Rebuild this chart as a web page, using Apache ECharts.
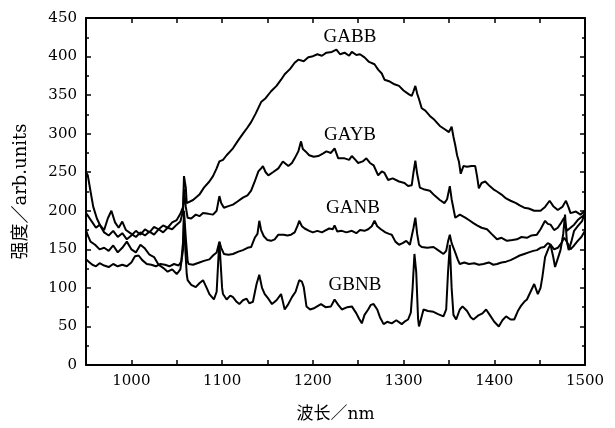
<!DOCTYPE html>
<html>
<head>
<meta charset="utf-8">
<script src="https://cdn.jsdelivr.net/npm/echarts@6/dist/echarts.min.js"></script>
<style>
    html, body { margin: 0; padding: 0; background: #fff; }
    #chart { width: 615px; height: 428px; }
</style>
</head>
<body>
<div id="chart"></div>
<script>
// 光谱数据 [波长 nm, 强度]
const gabb = [[950,250],[952,246],[955,225],[958,205],[962,190],[966,180],[970,172],[975,168],[980,174],[985,166],[990,171],[995,163],[1000,168],[1005,174],[1010,169],[1015,176],[1020,172],[1025,179],[1030,176],[1035,181],[1040,178],[1045,185],[1050,188],[1054,196],[1057,205],[1058,245],[1060,230],[1061,210],[1063,208],[1068,214],[1075,221],[1080,230],[1086,238],[1090,245],[1094,255],[1097,264],[1101,266],[1105,272],[1112,281],[1117,290],[1123,300],[1128,308],[1132,315],[1137,326],[1143,341],[1148,346],[1154,355],[1160,362],[1165,370],[1169,377],[1175,384],[1180,392],[1184,396],[1190,394],[1195,399],[1199,400],[1205,403],[1210,401],[1215,405],[1221,406],[1226,409],[1230,403],[1235,405],[1240,401],[1243,406],[1248,402],[1252,403],[1257,399],[1262,393],[1268,390],[1272,383],[1276,378],[1279,370],[1284,368],[1290,364],[1295,362],[1300,356],[1306,351],[1309,349],[1311,355],[1313,362],[1315,352],[1317,345],[1320,333],[1324,330],[1329,323],[1334,318],[1340,310],[1345,306],[1350,302],[1353,309],[1355,296],[1357,285],[1359,272],[1361,264],[1363,248],[1364,246],[1366,258],[1370,257],[1375,258],[1379,258],[1381,245],[1383,229],[1386,236],[1390,238],[1395,232],[1400,227],[1403,225],[1408,221],[1413,216],[1418,213],[1424,210],[1428,207],[1433,204],[1438,203],[1444,200],[1451,200],[1456,205],[1461,213],[1465,206],[1470,201],[1475,205],[1479,213],[1482,204],[1484,197],[1490,199],[1495,195],[1498,198],[1500,201]]
const gayb = [[950,197],[953,192],[957,185],[961,178],[965,182],[970,175],[974,190],[978,200],[982,185],[986,178],[990,186],[994,175],[1000,170],[1005,166],[1010,172],[1015,168],[1020,173],[1025,169],[1030,176],[1035,172],[1040,178],[1045,176],[1050,182],[1054,186],[1057,200],[1058,228],[1060,205],[1062,191],[1066,190],[1071,195],[1075,193],[1079,197],[1085,196],[1090,195],[1094,200],[1097,219],[1099,210],[1102,204],[1107,206],[1112,208],[1117,212],[1123,217],[1128,220],[1132,226],[1136,238],[1140,251],[1143,255],[1145,258],[1148,250],[1151,246],[1156,250],[1162,255],[1167,264],[1173,258],[1177,262],[1180,268],[1184,277],[1187,290],[1189,280],[1192,277],[1196,272],[1201,270],[1206,271],[1211,274],[1215,277],[1220,275],[1224,281],[1228,268],[1235,268],[1240,266],[1243,271],[1247,266],[1250,262],[1255,264],[1259,268],[1263,262],[1267,259],[1272,246],[1276,251],[1279,249],[1283,240],[1288,242],[1295,238],[1301,236],[1305,232],[1309,233],[1311,250],[1313,265],[1315,248],[1318,230],[1322,228],[1329,226],[1334,220],[1340,214],[1345,210],[1348,215],[1351,232],[1353,215],[1357,191],[1362,195],[1368,191],[1372,188],[1377,184],[1381,181],[1386,178],[1392,176],[1397,170],[1403,163],[1408,165],[1414,161],[1420,162],[1425,163],[1430,166],[1436,165],[1441,168],[1447,169],[1451,176],[1456,187],[1459,183],[1462,182],[1466,175],[1470,178],[1474,185],[1477,191],[1480,174],[1484,178],[1488,182],[1492,188],[1495,191],[1500,195]]
const ganb = [[950,175],[952,168],[955,160],[960,156],[965,150],[970,152],[975,148],[980,155],[985,146],[990,152],[995,160],[1000,150],[1005,146],[1010,156],[1015,151],[1020,143],[1025,140],[1030,130],[1035,126],[1040,121],[1045,124],[1050,118],[1054,124],[1057,150],[1058,200],[1060,165],[1062,135],[1063,131],[1068,130],[1075,133],[1080,135],[1086,137],[1090,142],[1094,146],[1097,160],[1099,152],[1102,144],[1107,143],[1112,144],[1118,147],[1123,149],[1128,152],[1132,153],[1136,165],[1139,170],[1141,187],[1143,175],[1146,167],[1150,162],[1154,161],[1158,163],[1162,169],[1168,169],[1172,168],[1176,169],[1180,172],[1183,180],[1185,187],[1188,180],[1191,177],[1196,174],[1200,172],[1205,174],[1210,172],[1213,174],[1218,177],[1222,176],[1224,181],[1227,173],[1232,174],[1237,172],[1243,174],[1248,171],[1252,175],[1257,174],[1261,176],[1265,180],[1268,187],[1271,180],[1275,176],[1280,172],[1284,170],[1287,169],[1291,160],[1295,156],[1299,158],[1303,161],[1307,156],[1309,158],[1311,178],[1313,191],[1315,170],[1317,156],[1320,153],[1326,152],[1333,153],[1338,149],[1344,144],[1347,148],[1349,160],[1351,169],[1353,158],[1356,149],[1360,136],[1362,131],[1367,133],[1372,131],[1378,132],[1383,130],[1388,131],[1394,133],[1399,130],[1403,131],[1408,133],[1413,134],[1418,136],[1423,139],[1428,142],[1433,144],[1438,146],[1443,148],[1447,149],[1451,152],[1455,153],[1459,158],[1462,156],[1466,150],[1470,152],[1474,158],[1477,165],[1480,160],[1484,150],[1488,155],[1492,161],[1496,166],[1500,174]]
const gbnb = [[950,137],[953,134],[957,130],[961,128],[965,132],[970,129],[975,127],[980,131],[985,128],[990,130],[995,128],[1000,133],[1004,141],[1008,142],[1012,136],[1017,131],[1022,130],[1027,128],[1032,131],[1037,130],[1042,128],[1047,131],[1052,129],[1055,134],[1057,160],[1058,190],[1059,160],[1061,118],[1062,110],[1066,104],[1071,101],[1075,106],[1079,110],[1083,100],[1086,92],[1091,85],[1094,95],[1096,140],[1097,159],[1098,140],[1100,100],[1101,92],[1105,85],[1109,90],[1112,88],[1116,82],[1119,79],[1123,84],[1127,86],[1130,80],[1134,82],[1138,105],[1141,117],[1144,100],[1147,92],[1151,86],[1155,79],[1160,84],[1165,92],[1169,72],[1173,79],[1177,88],[1181,95],[1185,110],[1188,108],[1190,101],[1193,76],[1197,72],[1202,74],[1209,79],[1214,75],[1220,76],[1224,85],[1228,78],[1232,72],[1238,75],[1243,76],[1248,67],[1251,60],[1254,54],[1257,65],[1261,72],[1264,78],[1267,79],[1271,72],[1274,62],[1278,53],[1282,56],[1287,54],[1292,58],[1298,53],[1302,57],[1305,59],[1308,68],[1310,100],[1312,144],[1314,120],[1316,60],[1317,50],[1320,63],[1322,72],[1327,70],[1333,69],[1338,66],[1344,63],[1347,72],[1349,120],[1351,156],[1353,100],[1355,65],[1358,59],[1362,72],[1365,76],[1370,70],[1374,62],[1377,59],[1382,64],[1387,67],[1391,72],[1395,65],[1400,56],[1405,50],[1409,58],[1413,63],[1418,59],[1422,59],[1426,70],[1429,76],[1433,82],[1436,85],[1440,95],[1444,105],[1448,92],[1451,100],[1453,114],[1456,140],[1460,152],[1462,156],[1465,140],[1467,127],[1470,138],[1473,149],[1476,170],[1478,195],[1480,160],[1482,149],[1485,160],[1488,174],[1492,180],[1497,187],[1500,200]]

const seriesNames = ['GABB', 'GAYB', 'GANB', 'GBNB']
const seriesData = [gabb, gayb, ganb, gbnb]
// 曲线标注位置
const labelPos = [[350, 37], [350, 135], [353, 208], [355, 285]]

let myChart = echarts.init(document.getElementById('chart'))

const tickFont = 'DejaVu Serif'
const nameFont = "'DejaVu Serif', 'Noto Sans CJK SC'"
function axisX(pos, showLabel) {
    return {
        type: 'value',
        position: pos,
        min: 950,
        max: 1500,
        interval: 50,
        name: showLabel ? '波长／nm' : '',
        nameLocation: 'middle',
        nameGap: 41,
        nameTextStyle: { color: '#000', fontSize: 17, fontFamily: nameFont },
        axisLine: { show: true, onZero: false, lineStyle: { color: '#000', width: 2 } },
        axisTick: { show: true, inside: true, length: 5, lineStyle: { color: '#000', width: 1.5 } },
        axisLabel: {
            show: showLabel,
            color: '#000',
            fontSize: 15,
            fontFamily: tickFont,
            margin: 9,
            formatter: v => v % 100 === 0 ? String(v) : ''
        },
        splitLine: { show: false }
    }
}
function axisY(pos, showLabel) {
    return {
        type: 'value',
        position: pos,
        min: 0,
        max: 450,
        interval: 50,
        name: showLabel ? '强度／arb.units' : '',
        nameLocation: 'middle',
        nameGap: 56,
        nameTextStyle: { color: '#000', fontSize: 18, fontFamily: nameFont },
        axisLine: { show: true, onZero: false, lineStyle: { color: '#000', width: 2 } },
        axisTick: { show: true, inside: true, length: 5, lineStyle: { color: '#000', width: 1.5 } },
        minorTick: { show: true, splitNumber: 2, length: 3, lineStyle: { color: '#000', width: 1.5 } },
        axisLabel: { show: showLabel, color: '#000', fontSize: 15, fontFamily: tickFont, margin: 9 },
        splitLine: { show: false },
        minorSplitLine: { show: false }
    }
}

let option = {
    animation: false,
    backgroundColor: '#fff',
    grid: { left: 86, right: 30, top: 18, bottom: 59, containLabel: false },
    xAxis: [axisX('bottom', true), axisX('top', false)],
    yAxis: [axisY('left', true), axisY('right', false)],
    series: seriesNames.map((name, i) => ({
        name: name,
        type: 'line',
        data: seriesData[i],
        showSymbol: false,
        symbol: 'none',
        lineStyle: { color: '#000', width: 2 },
        z: 3
    })),
    graphic: seriesNames.map((name, i) => ({
        type: 'text',
        x: labelPos[i][0],
        y: labelPos[i][1],
        style: {
            text: name,
            fill: '#000',
            font: "19px 'Liberation Serif'",
            textAlign: 'center',
            textVerticalAlign: 'middle'
        }
    }))
}
myChart.setOption(option)
</script>
</body>
</html>
